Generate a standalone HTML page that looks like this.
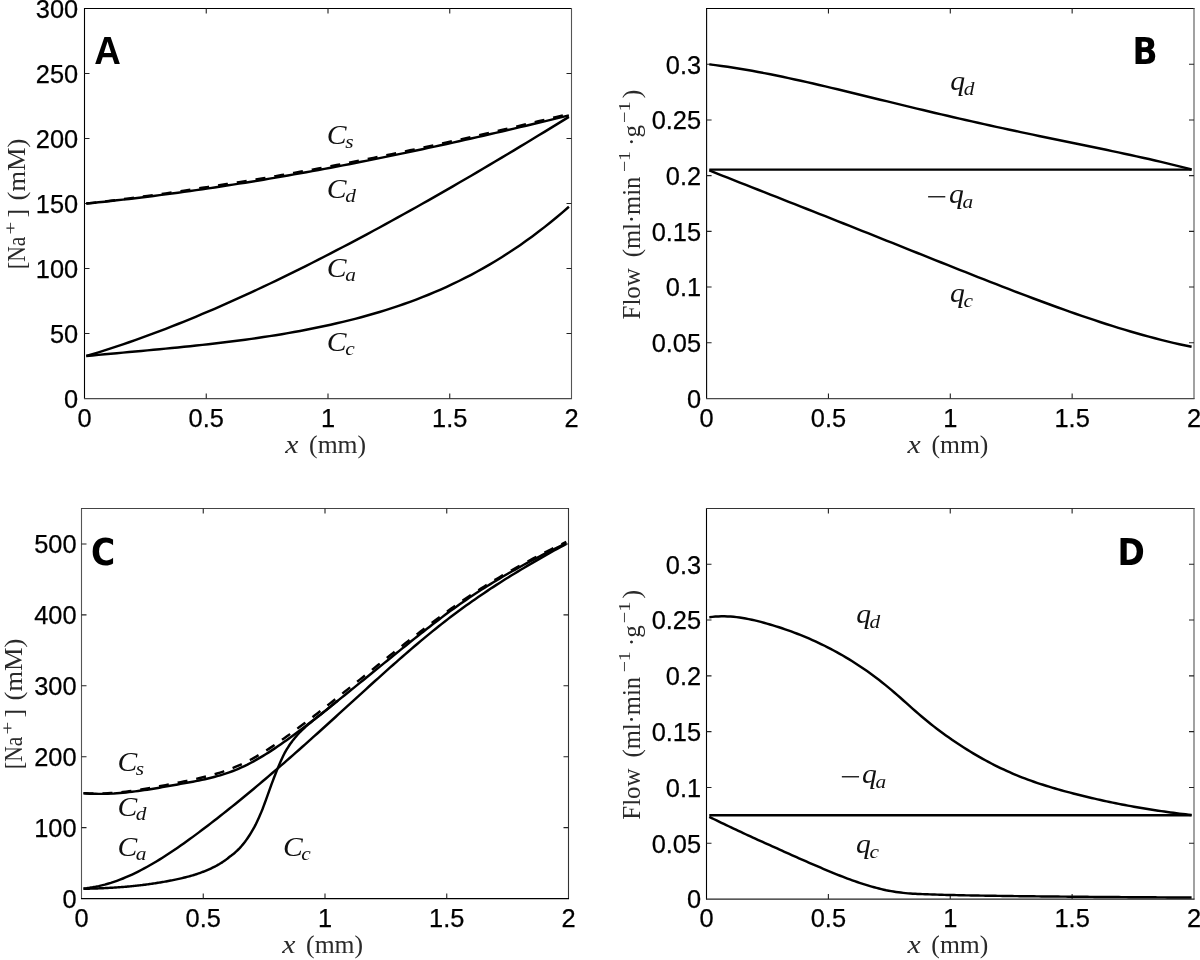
<!DOCTYPE html>
<html lang="en">
<head>
<meta charset="utf-8">
<title>Figure</title>
<style>
html,body{margin:0;padding:0;background:#fff;}
svg{display:block;}
.tk{font-family:"Liberation Sans",sans-serif;font-size:25.4px;fill:#000;stroke:#000;stroke-width:0.25;}
.lb{font-family:"Liberation Serif",serif;font-size:26px;fill:#2a2a2a;}
.sp{font-size:17.5px;}
.mt{font-family:"Liberation Serif",serif;font-style:italic;font-size:27.2px;fill:#111;}
.mn{font-style:normal;}
.sb{font-size:19.6px;}
.pc{font-family:"DejaVu Sans Condensed","DejaVu Sans","Liberation Sans",sans-serif;font-weight:bold;font-size:36.6px;fill:#000;}
.pl{font-family:"Liberation Sans",sans-serif;font-weight:bold;font-size:38.4px;fill:#000;}
</style>
</head>
<body>
<svg width="1200" height="960" viewBox="0 0 1200 960">
<rect x="0" y="0" width="1200" height="960" fill="#fff"/>
<path d="M84.5 8.0 V399.0" stroke="#000" stroke-width="1.1" fill="none"/>
<path d="M84.0 8.5 H572.0" stroke="#000" stroke-width="1.1" fill="none"/>
<path d="M571.5 8.0 V399.0" stroke="#555" stroke-width="1.1" fill="none"/>
<path d="M84.0 398.5 H572.0" stroke="#4a4a4a" stroke-width="1.25" fill="none"/>
<text x="84.50" y="426.80" text-anchor="middle" class="tk">0</text>
<text x="206.25" y="426.80" text-anchor="middle" class="tk">0.5</text>
<text x="328.00" y="426.80" text-anchor="middle" class="tk">1</text>
<text x="449.75" y="426.80" text-anchor="middle" class="tk">1.5</text>
<text x="571.50" y="426.80" text-anchor="middle" class="tk">2</text>
<text x="78.20" y="407.80" text-anchor="end" class="tk">0</text>
<text x="78.20" y="342.80" text-anchor="end" class="tk">50</text>
<text x="78.20" y="277.80" text-anchor="end" class="tk">100</text>
<text x="78.20" y="212.80" text-anchor="end" class="tk">150</text>
<text x="78.20" y="147.80" text-anchor="end" class="tk">200</text>
<text x="78.20" y="82.80" text-anchor="end" class="tk">250</text>
<text x="78.20" y="17.80" text-anchor="end" class="tk">300</text>
<path d="M206.25 398.5 v-5 M206.25 8.5 v5 M328.00 398.5 v-5 M328.00 8.5 v5 M449.75 398.5 v-5 M449.75 8.5 v5 M84.5 333.50 h5 M571.5 333.50 h-5 M84.5 268.50 h5 M571.5 268.50 h-5 M84.5 203.50 h5 M571.5 203.50 h-5 M84.5 138.50 h5 M571.5 138.50 h-5 M84.5 73.50 h5 M571.5 73.50 h-5" fill="none" stroke="#222" stroke-width="1.1"/>
<text x="285.20" y="452.80" class="lb" font-style="italic" textLength="13.2" lengthAdjust="spacingAndGlyphs">x</text>
<text x="309.10" y="452.80" class="lb" textLength="57" lengthAdjust="spacingAndGlyphs">(mm)</text>
<g transform="translate(25,269.00) rotate(-90)"><text x="0.0" y="0" class="lb" textLength="32.4" lengthAdjust="spacingAndGlyphs">[Na</text><text x="34.2" y="-9.2" class="lb sp" textLength="13.2" lengthAdjust="spacingAndGlyphs">+</text><text x="51.6" y="0" class="lb">]</text><text x="68.6" y="0" class="lb" textLength="61.7" lengthAdjust="spacingAndGlyphs">(mM)</text></g>
<path d="M86.30 203.58 L92.41 202.96 L98.52 202.33 L104.63 201.68 L110.74 201.02 L116.84 200.34 L122.95 199.64 L129.06 198.93 L135.17 198.21 L141.28 197.47 L147.39 196.71 L153.50 195.94 L159.61 195.15 L165.72 194.35 L171.82 193.54 L177.93 192.71 L184.04 191.87 L190.15 191.01 L196.26 190.14 L202.37 189.25 L208.48 188.36 L214.59 187.44 L220.69 186.52 L226.80 185.58 L232.91 184.63 L239.02 183.66 L245.13 182.68 L251.24 181.69 L257.35 180.69 L263.46 179.67 L269.57 178.64 L275.67 177.60 L281.78 176.55 L287.89 175.48 L294.00 174.41 L300.11 173.32 L306.22 172.22 L312.33 171.10 L318.44 169.98 L324.55 168.85 L330.65 167.70 L336.76 166.54 L342.87 165.37 L348.98 164.19 L355.09 163.00 L361.20 161.80 L367.31 160.59 L373.42 159.37 L379.53 158.14 L385.63 156.90 L391.74 155.64 L397.85 154.38 L403.96 153.11 L410.07 151.82 L416.18 150.53 L422.29 149.23 L428.40 147.92 L434.51 146.60 L440.61 145.27 L446.72 143.93 L452.83 142.58 L458.94 141.22 L465.05 139.86 L471.16 138.48 L477.27 137.10 L483.38 135.70 L489.48 134.30 L495.59 132.89 L501.70 131.47 L507.81 130.05 L513.92 128.61 L520.03 127.17 L526.14 125.72 L532.25 124.26 L538.36 122.80 L544.46 121.33 L550.57 119.84 L556.68 118.36 L562.79 116.86 L568.90 115.36" fill="none" stroke="#000" stroke-width="2.45" stroke-linejoin="round"/>
<path d="M86.30 203.58 L92.41 202.89 L98.52 202.18 L104.63 201.45 L110.74 200.71 L116.84 199.96 L122.95 199.18 L129.06 198.40 L135.17 197.60 L141.28 196.78 L147.39 195.95 L153.50 195.10 L159.61 194.24 L165.72 193.36 L171.82 192.47 L177.93 191.56 L184.04 190.65 L190.15 189.71 L196.26 188.76 L202.37 187.80 L208.48 186.86 L214.59 185.94 L220.69 185.02 L226.80 184.08 L232.91 183.13 L239.02 182.16 L245.13 181.18 L251.24 180.19 L257.35 179.19 L263.46 178.17 L269.57 177.14 L275.67 176.10 L281.78 175.05 L287.89 173.98 L294.00 172.91 L300.11 171.82 L306.22 170.72 L312.33 169.60 L318.44 168.48 L324.55 167.35 L330.65 166.20 L336.76 165.04 L342.87 163.87 L348.98 162.69 L355.09 161.50 L361.20 160.30 L367.31 159.09 L373.42 157.87 L379.53 156.64 L385.63 155.40 L391.74 154.14 L397.85 152.88 L403.96 151.61 L410.07 150.32 L416.18 149.03 L422.29 147.73 L428.40 146.42 L434.51 145.10 L440.61 143.77 L446.72 142.43 L452.83 141.08 L458.94 139.72 L465.05 138.36 L471.16 136.98 L477.27 135.60 L483.38 134.20 L489.48 132.80 L495.59 131.39 L501.70 129.97 L507.81 128.55 L513.92 127.11 L520.03 125.67 L526.14 124.22 L532.25 122.76 L538.36 121.30 L544.46 119.83 L550.57 118.34 L556.68 116.86 L562.79 115.36 L568.90 113.86" fill="none" stroke="#000" stroke-width="2.45" stroke-linejoin="round" stroke-dasharray="10 9"/>
<path d="M86.30 356.03 L92.41 354.19 L98.52 352.31 L104.63 350.38 L110.74 348.40 L116.84 346.39 L122.95 344.33 L129.06 342.23 L135.17 340.08 L141.28 337.90 L147.39 335.68 L153.50 333.42 L159.61 331.11 L165.72 328.78 L171.82 326.40 L177.93 323.99 L184.04 321.54 L190.15 319.05 L196.26 316.53 L202.37 313.97 L208.48 311.38 L214.59 308.76 L220.69 306.10 L226.80 303.42 L232.91 300.70 L239.02 297.95 L245.13 295.16 L251.24 292.35 L257.35 289.51 L263.46 286.64 L269.57 283.75 L275.67 280.82 L281.78 277.87 L287.89 274.89 L294.00 271.89 L300.11 268.86 L306.22 265.81 L312.33 262.73 L318.44 259.63 L324.55 256.51 L330.65 253.37 L336.76 250.20 L342.87 247.01 L348.98 243.80 L355.09 240.57 L361.20 237.33 L367.31 234.06 L373.42 230.77 L379.53 227.46 L385.63 224.13 L391.74 220.78 L397.85 217.42 L403.96 214.04 L410.07 210.64 L416.18 207.22 L422.29 203.78 L428.40 200.33 L434.51 196.86 L440.61 193.37 L446.72 189.87 L452.83 186.35 L458.94 182.81 L465.05 179.26 L471.16 175.70 L477.27 172.12 L483.38 168.52 L489.48 164.92 L495.59 161.29 L501.70 157.66 L507.81 154.01 L513.92 150.35 L520.03 146.67 L526.14 142.98 L532.25 139.28 L538.36 135.57 L544.46 131.85 L550.57 128.11 L556.68 124.37 L562.79 120.61 L568.90 116.85" fill="none" stroke="#000" stroke-width="2.45" stroke-linejoin="round"/>
<path d="M86.30 356.06 L92.41 355.47 L98.52 354.88 L104.63 354.31 L110.74 353.74 L116.84 353.17 L122.95 352.61 L129.06 352.05 L135.17 351.49 L141.28 350.93 L147.39 350.36 L153.50 349.79 L159.61 349.21 L165.72 348.63 L171.82 348.04 L177.93 347.43 L184.04 346.82 L190.15 346.19 L196.26 345.55 L202.37 344.89 L208.48 344.21 L214.59 343.51 L220.69 342.80 L226.80 342.06 L232.91 341.30 L239.02 340.51 L245.13 339.69 L251.24 338.85 L257.35 337.98 L263.46 337.08 L269.57 336.14 L275.67 335.17 L281.78 334.17 L287.89 333.13 L294.00 332.05 L300.11 330.93 L306.22 329.77 L312.33 328.57 L318.44 327.32 L324.55 326.03 L330.65 324.69 L336.76 323.30 L342.87 321.86 L348.98 320.37 L355.09 318.82 L361.20 317.21 L367.31 315.54 L373.42 313.80 L379.53 311.99 L385.63 310.12 L391.74 308.16 L397.85 306.14 L403.96 304.03 L410.07 301.84 L416.18 299.56 L422.29 297.20 L428.40 294.75 L434.51 292.20 L440.61 289.56 L446.72 286.81 L452.83 283.97 L458.94 281.02 L465.05 277.96 L471.16 274.79 L477.27 271.51 L483.38 268.12 L489.48 264.60 L495.59 260.96 L501.70 257.20 L507.81 253.31 L513.92 249.29 L520.03 245.14 L526.14 240.85 L532.25 236.42 L538.36 231.85 L544.46 227.14 L550.57 222.28 L556.68 217.27 L562.79 212.11 L568.90 206.79" fill="none" stroke="#000" stroke-width="2.45" stroke-linejoin="round"/>
<text transform="translate(326.8,144.3) scale(1.09,1)" class="mt">C<tspan class="sb" dx="-1.3" dy="4.0">s</tspan></text>
<text transform="translate(326.8,198.3) scale(1.09,1)" class="mt">C<tspan class="sb" dx="-1.3" dy="4.0">d</tspan></text>
<text transform="translate(326.8,276.7) scale(1.09,1)" class="mt">C<tspan class="sb" dx="-1.3" dy="4.0">a</tspan></text>
<text transform="translate(326.8,351) scale(1.09,1)" class="mt">C<tspan class="sb" dx="-1.3" dy="4.0">c</tspan></text>
<text x="94.3" y="63.5" class="pl" textLength="26.6" lengthAdjust="spacingAndGlyphs">A</text>
<path d="M706.6 8.0 V399.0" stroke="#000" stroke-width="1.1" fill="none"/>
<path d="M706.1 8.5 H1194.5" stroke="#000" stroke-width="1.1" fill="none"/>
<path d="M1194.0 8.0 V399.0" stroke="#555" stroke-width="1.1" fill="none"/>
<path d="M706.1 398.5 H1194.5" stroke="#4a4a4a" stroke-width="1.25" fill="none"/>
<text x="706.60" y="426.80" text-anchor="middle" class="tk">0</text>
<text x="828.45" y="426.80" text-anchor="middle" class="tk">0.5</text>
<text x="950.30" y="426.80" text-anchor="middle" class="tk">1</text>
<text x="1072.15" y="426.80" text-anchor="middle" class="tk">1.5</text>
<text x="1194.00" y="426.80" text-anchor="middle" class="tk">2</text>
<text x="701.10" y="407.80" text-anchor="end" class="tk">0</text>
<text x="701.10" y="352.09" text-anchor="end" class="tk">0.05</text>
<text x="701.10" y="296.37" text-anchor="end" class="tk">0.1</text>
<text x="701.10" y="240.66" text-anchor="end" class="tk">0.15</text>
<text x="701.10" y="184.94" text-anchor="end" class="tk">0.2</text>
<text x="701.10" y="129.23" text-anchor="end" class="tk">0.25</text>
<text x="701.10" y="73.51" text-anchor="end" class="tk">0.3</text>
<path d="M828.45 398.5 v-5 M828.45 8.5 v5 M950.30 398.5 v-5 M950.30 8.5 v5 M1072.15 398.5 v-5 M1072.15 8.5 v5 M706.6 342.79 h5 M1194.0 342.79 h-5 M706.6 287.07 h5 M1194.0 287.07 h-5 M706.6 231.36 h5 M1194.0 231.36 h-5 M706.6 175.64 h5 M1194.0 175.64 h-5 M706.6 119.93 h5 M1194.0 119.93 h-5 M706.6 64.21 h5 M1194.0 64.21 h-5" fill="none" stroke="#222" stroke-width="1.1"/>
<text x="907.50" y="452.80" class="lb" font-style="italic" textLength="13.2" lengthAdjust="spacingAndGlyphs">x</text>
<text x="931.40" y="452.80" class="lb" textLength="57" lengthAdjust="spacingAndGlyphs">(mm)</text>
<g transform="translate(639.5,319.50) rotate(-90)"><text x="0.0" y="0" class="lb" textLength="51.4" lengthAdjust="spacingAndGlyphs">Flow</text><text x="62.2" y="0" class="lb" textLength="80.6" lengthAdjust="spacingAndGlyphs">(ml·min</text><text x="147.4" y="-9.2" class="lb sp" textLength="21.2" lengthAdjust="spacingAndGlyphs">−1</text><text x="173.5" y="0" class="lb" textLength="21.0" lengthAdjust="spacingAndGlyphs">·g</text><text x="196.6" y="-9.2" class="lb sp" textLength="21.5" lengthAdjust="spacingAndGlyphs">−1</text><text x="221.3" y="0" class="lb">)</text></g>
<path d="M709.30 64.40 L715.41 65.14 L721.51 65.95 L727.62 66.81 L733.72 67.74 L739.83 68.71 L745.93 69.74 L752.04 70.82 L758.14 71.94 L764.25 73.10 L770.35 74.30 L776.46 75.54 L782.56 76.81 L788.67 78.11 L794.77 79.44 L800.88 80.79 L806.98 82.17 L813.09 83.56 L819.19 84.98 L825.30 86.41 L831.40 87.85 L837.51 89.31 L843.61 90.78 L849.72 92.25 L855.82 93.73 L861.93 95.22 L868.03 96.71 L874.14 98.20 L880.24 99.69 L886.35 101.18 L892.45 102.67 L898.56 104.16 L904.66 105.64 L910.77 107.11 L916.87 108.58 L922.98 110.04 L929.08 111.49 L935.19 112.94 L941.29 114.37 L947.40 115.80 L953.50 117.22 L959.61 118.62 L965.71 120.02 L971.82 121.40 L977.92 122.77 L984.03 124.13 L990.13 125.49 L996.24 126.83 L1002.34 128.16 L1008.45 129.48 L1014.55 130.79 L1020.66 132.09 L1026.76 133.38 L1032.87 134.66 L1038.97 135.94 L1045.08 137.21 L1051.18 138.48 L1057.29 139.74 L1063.39 141.00 L1069.50 142.25 L1075.60 143.51 L1081.71 144.76 L1087.81 146.02 L1093.92 147.28 L1100.02 148.55 L1106.13 149.82 L1112.23 151.10 L1118.34 152.39 L1124.44 153.69 L1130.55 155.01 L1136.65 156.35 L1142.76 157.70 L1148.86 159.07 L1154.97 160.47 L1161.07 161.89 L1167.18 163.34 L1173.28 164.82 L1179.39 166.33 L1185.49 167.88 L1191.60 169.47" fill="none" stroke="#000" stroke-width="2.45" stroke-linejoin="round"/>
<path d="M709.30 169.60 L1191.60 169.60" fill="none" stroke="#000" stroke-width="2.45" stroke-linejoin="round"/>
<path d="M709.30 170.44 L715.41 172.87 L721.51 175.29 L727.62 177.71 L733.72 180.13 L739.83 182.54 L745.93 184.95 L752.04 187.36 L758.14 189.76 L764.25 192.16 L770.35 194.57 L776.46 196.97 L782.56 199.37 L788.67 201.77 L794.77 204.18 L800.88 206.59 L806.98 208.99 L813.09 211.40 L819.19 213.82 L825.30 216.23 L831.40 218.65 L837.51 221.07 L843.61 223.49 L849.72 225.92 L855.82 228.35 L861.93 230.78 L868.03 233.21 L874.14 235.65 L880.24 238.09 L886.35 240.53 L892.45 242.97 L898.56 245.41 L904.66 247.85 L910.77 250.30 L916.87 252.74 L922.98 255.19 L929.08 257.63 L935.19 260.07 L941.29 262.51 L947.40 264.94 L953.50 267.37 L959.61 269.80 L965.71 272.22 L971.82 274.64 L977.92 277.04 L984.03 279.45 L990.13 281.84 L996.24 284.22 L1002.34 286.59 L1008.45 288.95 L1014.55 291.29 L1020.66 293.62 L1026.76 295.94 L1032.87 298.23 L1038.97 300.51 L1045.08 302.77 L1051.18 305.01 L1057.29 307.23 L1063.39 309.42 L1069.50 311.59 L1075.60 313.73 L1081.71 315.84 L1087.81 317.92 L1093.92 319.96 L1100.02 321.98 L1106.13 323.96 L1112.23 325.90 L1118.34 327.80 L1124.44 329.66 L1130.55 331.48 L1136.65 333.25 L1142.76 334.98 L1148.86 336.65 L1154.97 338.28 L1161.07 339.85 L1167.18 341.36 L1173.28 342.82 L1179.39 344.22 L1185.49 345.55 L1191.60 346.82" fill="none" stroke="#000" stroke-width="2.45" stroke-linejoin="round"/>
<text transform="translate(950.3,89.8) scale(1.09,1)" class="mt">q<tspan class="sb" dx="-1.3" dy="5.0">d</tspan></text>
<text transform="translate(926.30,206.10) scale(1.36,1)" class="mt mn">−</text>
<text transform="translate(949,203.4) scale(1.09,1)" class="mt">q<tspan class="sb" dx="-1.3" dy="5.0">a</tspan></text>
<text transform="translate(950,302) scale(1.09,1)" class="mt">q<tspan class="sb" dx="-1.3" dy="5.0">c</tspan></text>
<text x="1132.6" y="63.7" class="pc">B</text>
<path d="M81.5 508.0 V899.0" stroke="#555" stroke-width="1.1" fill="none"/>
<path d="M81.0 508.5 H569.0" stroke="#444" stroke-width="1.1" fill="none"/>
<path d="M568.5 508.0 V899.0" stroke="#333" stroke-width="1.1" fill="none"/>
<path d="M81.0 898.5 H569.0" stroke="#000" stroke-width="1.25" fill="none"/>
<text x="81.50" y="926.80" text-anchor="middle" class="tk">0</text>
<text x="203.25" y="926.80" text-anchor="middle" class="tk">0.5</text>
<text x="325.00" y="926.80" text-anchor="middle" class="tk">1</text>
<text x="446.75" y="926.80" text-anchor="middle" class="tk">1.5</text>
<text x="568.50" y="926.80" text-anchor="middle" class="tk">2</text>
<text x="76.60" y="907.80" text-anchor="end" class="tk">0</text>
<text x="76.60" y="836.89" text-anchor="end" class="tk">100</text>
<text x="76.60" y="765.98" text-anchor="end" class="tk">200</text>
<text x="76.60" y="695.07" text-anchor="end" class="tk">300</text>
<text x="76.60" y="624.16" text-anchor="end" class="tk">400</text>
<text x="76.60" y="553.25" text-anchor="end" class="tk">500</text>
<path d="M203.25 898.5 v-5 M203.25 508.5 v5 M325.00 898.5 v-5 M325.00 508.5 v5 M446.75 898.5 v-5 M446.75 508.5 v5 M81.5 827.59 h5 M568.5 827.59 h-5 M81.5 756.68 h5 M568.5 756.68 h-5 M81.5 685.77 h5 M568.5 685.77 h-5 M81.5 614.86 h5 M568.5 614.86 h-5 M81.5 543.95 h5 M568.5 543.95 h-5" fill="none" stroke="#222" stroke-width="1.1"/>
<text x="282.20" y="952.80" class="lb" font-style="italic" textLength="13.2" lengthAdjust="spacingAndGlyphs">x</text>
<text x="306.10" y="952.80" class="lb" textLength="57" lengthAdjust="spacingAndGlyphs">(mm)</text>
<g transform="translate(22,769.00) rotate(-90)"><text x="0.0" y="0" class="lb" textLength="32.4" lengthAdjust="spacingAndGlyphs">[Na</text><text x="34.2" y="-9.2" class="lb sp" textLength="13.2" lengthAdjust="spacingAndGlyphs">+</text><text x="51.6" y="0" class="lb">]</text><text x="68.6" y="0" class="lb" textLength="61.7" lengthAdjust="spacingAndGlyphs">(mM)</text></g>
<path d="M83.50 793.31 L86.54 793.51 L89.57 793.66 L92.61 793.77 L95.65 793.84 L98.68 793.88 L101.72 793.87 L104.76 793.82 L107.79 793.75 L110.83 793.63 L113.86 793.48 L116.90 793.25 L119.94 793.00 L122.97 792.73 L126.01 792.42 L129.05 792.09 L132.08 791.75 L135.12 791.38 L138.16 790.99 L141.19 790.58 L144.23 790.16 L147.27 789.72 L150.30 789.22 L153.34 788.72 L156.38 788.20 L159.41 787.68 L162.45 787.15 L165.48 786.61 L168.52 786.07 L171.56 785.53 L174.59 784.99 L177.63 784.45 L180.67 783.91 L183.70 783.36 L186.74 782.81 L189.78 782.25 L192.81 781.68 L195.85 781.09 L198.89 780.49 L201.92 779.86 L204.96 779.20 L208.00 778.51 L211.03 777.78 L214.07 777.01 L217.11 776.19 L220.14 775.32 L223.18 774.39 L226.21 773.40 L229.25 772.35 L232.29 771.23 L235.32 770.04 L238.36 768.78 L241.40 767.45 L244.43 766.06 L247.47 764.60 L250.51 763.01 L253.54 761.37 L256.58 759.67 L259.62 757.91 L262.65 756.10 L265.69 754.24 L268.73 752.34 L271.76 750.38 L274.80 748.38 L277.83 746.33 L280.87 744.24 L283.91 742.11 L286.94 739.93 L289.98 737.73 L293.02 735.48 L296.05 733.21 L299.09 730.90 L302.13 728.63 L305.16 726.36 L308.20 724.06 L311.24 721.74 L314.27 719.40 L317.31 717.04 L320.35 714.66 L323.38 712.26 L326.42 709.86 L329.45 707.44 L332.49 705.01 L335.53 702.57 L338.56 700.12 L341.60 697.67 L344.64 695.22 L347.67 692.76 L350.71 690.30 L353.75 687.84 L356.78 685.37 L359.82 682.91 L362.86 680.44 L365.89 677.97 L368.93 675.50 L371.97 673.03 L375.00 670.56 L378.04 668.09 L381.07 665.62 L384.11 663.16 L387.15 660.69 L390.18 658.23 L393.22 655.76 L396.26 653.31 L399.29 650.85 L402.33 648.40 L405.37 645.95 L408.40 643.50 L411.44 641.07 L414.48 638.64 L417.51 636.22 L420.55 633.81 L423.59 631.42 L426.62 629.04 L429.66 626.67 L432.69 624.32 L435.73 621.98 L438.77 619.67 L441.80 617.37 L444.84 615.10 L447.88 612.85 L450.91 610.62 L453.95 608.42 L456.99 606.24 L460.02 604.09 L463.06 601.97 L466.10 599.88 L469.13 597.82 L472.17 595.78 L475.21 593.77 L478.24 591.79 L481.28 589.83 L484.32 587.90 L487.35 585.99 L490.39 584.11 L493.42 582.25 L496.46 580.41 L499.50 578.59 L502.53 576.80 L505.57 575.02 L508.61 573.27 L511.64 571.54 L514.68 569.82 L517.72 568.13 L520.75 566.45 L523.79 564.79 L526.83 563.15 L529.86 561.53 L532.90 559.92 L535.94 558.32 L538.97 556.74 L542.01 555.18 L545.04 553.62 L548.08 552.08 L551.12 550.56 L554.15 549.04 L557.19 547.54 L560.23 546.05 L563.26 544.57 L566.30 543.09" fill="none" stroke="#000" stroke-width="2.45" stroke-linejoin="round"/>
<path d="M83.50 793.11 L86.54 793.27 L89.57 793.38 L92.61 793.46 L95.65 793.49 L98.68 793.48 L101.72 793.43 L104.76 793.35 L107.79 793.23 L110.83 793.08 L113.86 792.89 L116.90 792.62 L119.94 792.33 L122.97 792.02 L126.01 791.67 L129.05 791.31 L132.08 790.90 L135.12 790.47 L138.16 790.02 L141.19 789.56 L144.23 789.07 L147.27 788.57 L150.30 788.02 L153.34 787.45 L156.38 786.87 L159.41 786.29 L162.45 785.70 L165.48 785.10 L168.52 784.50 L171.56 783.90 L174.59 783.30 L177.63 782.70 L180.67 782.10 L183.70 781.47 L186.74 780.85 L189.78 780.21 L192.81 779.57 L195.85 778.91 L198.89 778.23 L201.92 777.53 L204.96 776.80 L208.00 776.04 L211.03 775.23 L214.07 774.39 L217.11 773.50 L220.14 772.55 L223.18 771.55 L226.21 770.49 L229.25 769.37 L232.29 768.20 L235.32 766.97 L238.36 765.68 L241.40 764.31 L244.43 762.89 L247.47 761.39 L250.51 759.77 L253.54 758.09 L256.58 756.35 L259.62 754.56 L262.65 752.71 L265.69 750.82 L268.73 748.87 L271.76 746.88 L274.80 744.84 L277.83 742.76 L280.87 740.64 L283.91 738.51 L286.94 736.33 L289.98 734.13 L293.02 731.88 L296.05 729.61 L299.09 727.30 L302.13 725.03 L305.16 722.76 L308.20 720.46 L311.24 718.14 L314.27 715.80 L317.31 713.44 L320.35 711.06 L323.38 708.66 L326.42 706.26 L329.45 703.84 L332.49 701.43 L335.53 699.03 L338.56 696.62 L341.60 694.20 L344.64 691.79 L347.67 689.36 L350.71 686.94 L353.75 684.51 L356.78 682.08 L359.82 679.65 L362.86 677.22 L365.89 674.78 L368.93 672.35 L371.97 669.91 L375.00 667.48 L378.04 665.04 L381.07 662.61 L384.11 660.18 L387.15 657.74 L390.18 655.31 L393.22 652.89 L396.26 650.46 L399.29 648.04 L402.33 645.65 L405.37 643.28 L408.40 640.91 L411.44 638.55 L414.48 636.20 L417.51 633.86 L420.55 631.52 L423.59 629.18 L426.62 626.85 L429.66 624.53 L432.69 622.23 L435.73 619.95 L438.77 617.68 L441.80 615.44 L444.84 613.21 L447.88 611.01 L450.91 608.83 L453.95 606.66 L456.99 604.51 L460.02 602.39 L463.06 600.30 L466.10 598.24 L469.13 596.21 L472.17 594.20 L475.21 592.23 L478.24 590.27 L481.28 588.34 L484.32 586.42 L487.35 584.53 L490.39 582.66 L493.42 580.81 L496.46 578.99 L499.50 577.19 L502.53 575.41 L505.57 573.65 L508.61 571.91 L511.64 570.20 L514.68 568.50 L517.72 566.82 L520.75 565.15 L523.79 563.50 L526.83 561.87 L529.86 560.25 L532.90 558.64 L535.94 557.06 L538.97 555.48 L542.01 553.92 L545.04 552.38 L548.08 550.85 L551.12 549.33 L554.15 547.82 L557.19 546.32 L560.23 544.84 L563.26 543.36 L566.30 541.89" fill="none" stroke="#000" stroke-width="2.45" stroke-linejoin="round" stroke-dasharray="10 9"/>
<path d="M83.50 888.43 L86.54 888.14 L89.57 887.76 L92.61 887.30 L95.65 886.76 L98.68 886.14 L101.72 885.43 L104.76 884.66 L107.79 883.80 L110.83 882.88 L113.86 881.88 L116.90 880.82 L119.94 879.69 L122.97 878.49 L126.01 877.23 L129.05 875.90 L132.08 874.52 L135.12 873.07 L138.16 871.57 L141.19 870.02 L144.23 868.41 L147.27 866.75 L150.30 865.04 L153.34 863.28 L156.38 861.48 L159.41 859.63 L162.45 857.74 L165.48 855.81 L168.52 853.83 L171.56 851.83 L174.59 849.78 L177.63 847.70 L180.67 845.60 L183.70 843.46 L186.74 841.29 L189.78 839.09 L192.81 836.87 L195.85 834.63 L198.89 832.37 L201.92 830.08 L204.96 827.78 L208.00 825.46 L211.03 823.13 L214.07 820.78 L217.11 818.42 L220.14 816.04 L223.18 813.64 L226.21 811.24 L229.25 808.81 L232.29 806.38 L235.32 803.93 L238.36 801.46 L241.40 798.98 L244.43 796.49 L247.47 793.99 L250.51 791.48 L253.54 788.95 L256.58 786.41 L259.62 783.86 L262.65 781.29 L265.69 778.72 L268.73 776.14 L271.76 773.54 L274.80 770.93 L277.83 768.32 L280.87 765.69 L283.91 763.05 L286.94 760.41 L289.98 757.75 L293.02 755.09 L296.05 752.41 L299.09 749.73 L302.13 747.04 L305.16 744.34 L308.20 741.64 L311.24 738.92 L314.27 736.20 L317.31 733.48 L320.35 730.74 L323.38 728.00 L326.42 725.25 L329.45 722.50 L332.49 719.74 L335.53 716.98 L338.56 714.21 L341.60 711.44 L344.64 708.67 L347.67 705.90 L350.71 703.12 L353.75 700.35 L356.78 697.58 L359.82 694.81 L362.86 692.05 L365.89 689.28 L368.93 686.53 L371.97 683.77 L375.00 681.03 L378.04 678.29 L381.07 675.56 L384.11 672.84 L387.15 670.12 L390.18 667.42 L393.22 664.73 L396.26 662.05 L399.29 659.39 L402.33 656.73 L405.37 654.10 L408.40 651.47 L411.44 648.87 L414.48 646.28 L417.51 643.70 L420.55 641.15 L423.59 638.62 L426.62 636.10 L429.66 633.61 L432.69 631.14 L435.73 628.69 L438.77 626.27 L441.80 623.87 L444.84 621.49 L447.88 619.14 L450.91 616.82 L453.95 614.52 L456.99 612.25 L460.02 610.01 L463.06 607.79 L466.10 605.59 L469.13 603.42 L472.17 601.27 L475.21 599.15 L478.24 597.04 L481.28 594.96 L484.32 592.91 L487.35 590.87 L490.39 588.85 L493.42 586.86 L496.46 584.88 L499.50 582.93 L502.53 580.99 L505.57 579.07 L508.61 577.17 L511.64 575.29 L514.68 573.43 L517.72 571.58 L520.75 569.75 L523.79 567.93 L526.83 566.13 L529.86 564.35 L532.90 562.57 L535.94 560.82 L538.97 559.08 L542.01 557.35 L545.04 555.63 L548.08 553.92 L551.12 552.23 L554.15 550.55 L557.19 548.88 L560.23 547.22 L563.26 545.57 L566.30 543.93" fill="none" stroke="#000" stroke-width="2.45" stroke-linejoin="round"/>
<path d="M83.50 888.77 L84.66 888.75 L85.82 888.73 L86.99 888.71 L88.15 888.68 L89.31 888.66 L90.47 888.63 L91.63 888.60 L92.80 888.57 L93.96 888.53 L95.12 888.50 L96.28 888.46 L97.45 888.42 L98.61 888.37 L99.77 888.33 L100.93 888.28 L102.09 888.23 L103.26 888.18 L104.42 888.13 L105.58 888.08 L106.74 888.02 L107.90 887.96 L109.07 887.90 L110.23 887.83 L111.39 887.76 L112.55 887.69 L113.71 887.62 L114.88 887.55 L116.04 887.47 L117.20 887.39 L118.36 887.31 L119.53 887.23 L120.69 887.14 L121.85 887.05 L123.01 886.96 L124.17 886.86 L125.34 886.77 L126.50 886.67 L127.66 886.56 L128.82 886.46 L129.98 886.35 L131.15 886.24 L132.31 886.12 L133.47 886.01 L134.63 885.89 L135.79 885.76 L136.96 885.64 L138.12 885.51 L139.28 885.38 L140.44 885.24 L141.61 885.10 L142.77 884.96 L143.93 884.82 L145.09 884.67 L146.25 884.52 L147.42 884.36 L148.58 884.21 L149.74 884.05 L150.90 883.88 L152.06 883.72 L153.23 883.55 L154.39 883.37 L155.55 883.19 L156.71 883.01 L157.87 882.83 L159.04 882.64 L160.20 882.45 L161.36 882.26 L162.52 882.06 L163.68 881.86 L164.85 881.65 L166.01 881.44 L167.17 881.23 L168.33 881.01 L169.50 880.79 L170.66 880.57 L171.82 880.34 L172.98 880.11 L174.14 879.87 L175.31 879.63 L176.47 879.39 L177.63 879.14 L178.79 878.89 L179.95 878.63 L181.12 878.36 L182.28 878.09 L183.44 877.81 L184.60 877.53 L185.76 877.23 L186.93 876.93 L188.09 876.63 L189.25 876.31 L190.41 875.98 L191.58 875.65 L192.74 875.31 L193.90 874.96 L195.06 874.59 L196.22 874.22 L197.39 873.84 L198.55 873.44 L199.71 873.04 L200.87 872.62 L202.03 872.19 L203.20 871.75 L204.36 871.29 L205.52 870.82 L206.68 870.34 L207.84 869.85 L209.01 869.34 L210.17 868.81 L211.33 868.27 L212.49 867.72 L213.66 867.15 L214.82 866.57 L215.98 865.96 L217.14 865.34 L218.30 864.69 L219.47 864.02 L220.63 863.32 L221.79 862.59 L222.95 861.84 L224.11 861.05 L225.28 860.22 L226.44 859.36 L227.60 858.47 L228.76 857.53 L229.92 856.55 L231.09 855.72 L232.25 854.85 L233.41 853.93 L234.57 852.97 L235.74 851.95 L236.90 850.88 L238.06 849.75 L239.22 848.57 L240.38 847.32 L241.55 846.01 L242.71 844.64 L243.87 843.20 L245.03 841.70 L246.19 840.12 L247.36 838.47 L248.52 836.76 L249.68 834.98 L250.84 833.13 L252.00 831.20 L253.17 829.21 L254.33 827.14 L255.49 824.92 L256.65 822.50 L257.82 820.01 L258.98 817.45 L260.14 814.83 L261.30 812.13 L262.46 809.26 L263.63 806.16 L264.79 803.01 L265.95 799.82 L267.11 796.60 L268.27 793.37 L269.44 790.13 L270.60 786.90 L271.76 783.68 L272.92 780.57 L274.08 777.51 L275.25 774.50 L276.41 771.55 L277.57 768.66 L278.73 765.85 L279.89 763.11 L281.06 760.48 L282.22 757.95 L283.38 755.52 L284.54 753.20 L285.71 751.09 L286.87 749.14 L288.03 747.29 L289.19 745.51 L290.35 743.81 L291.52 742.19 L292.68 740.64 L293.84 739.15 L295.00 737.73 L296.16 736.35 L297.33 735.03 L298.49 733.76 L299.65 732.52 L300.81 731.33 L301.97 730.18 L303.14 729.06 L304.30 727.98 L305.46 726.92 L306.62 725.89 L307.79 724.89 L308.95 723.91 L310.11 722.95 L311.27 722.00 L312.43 721.06 L313.60 720.14 L314.76 719.23 L315.92 718.32 L317.08 717.41 L318.24 716.50 L319.41 715.59 L320.57 714.67 L321.73 713.75 L322.89 712.81 L324.05 711.86 L325.22 710.91 L326.38 709.95 L327.54 708.98 L328.70 708.02 L329.87 707.06 L331.03 706.10 L332.19 705.15 L333.35 704.20 L334.51 703.27 L335.68 702.35 L336.84 701.45 L338.00 700.57" fill="none" stroke="#000" stroke-width="2.45" stroke-linejoin="round"/>
<text transform="translate(117.5,770.5) scale(1.09,1)" class="mt">C<tspan class="sb" dx="-1.3" dy="4.0">s</tspan></text>
<text transform="translate(117.5,816.3) scale(1.09,1)" class="mt">C<tspan class="sb" dx="-1.3" dy="4.0">d</tspan></text>
<text transform="translate(117.5,856.3) scale(1.09,1)" class="mt">C<tspan class="sb" dx="-1.3" dy="4.0">a</tspan></text>
<text transform="translate(283,856.3) scale(1.09,1)" class="mt">C<tspan class="sb" dx="-1.3" dy="4.0">c</tspan></text>
<text x="90.9" y="564.9" class="pc">C</text>
<path d="M706.5 508.0 V899.5" stroke="#000" stroke-width="1.1" fill="none"/>
<path d="M706.0 508.5 H1194.5" stroke="#333" stroke-width="1.1" fill="none"/>
<path d="M1194.0 508.0 V899.5" stroke="#555" stroke-width="1.1" fill="none"/>
<path d="M706.0 899.0 H1194.5" stroke="#222" stroke-width="1.25" fill="none"/>
<text x="706.50" y="927.30" text-anchor="middle" class="tk">0</text>
<text x="828.38" y="927.30" text-anchor="middle" class="tk">0.5</text>
<text x="950.25" y="927.30" text-anchor="middle" class="tk">1</text>
<text x="1072.12" y="927.30" text-anchor="middle" class="tk">1.5</text>
<text x="1194.00" y="927.30" text-anchor="middle" class="tk">2</text>
<text x="701.10" y="908.30" text-anchor="end" class="tk">0</text>
<text x="701.10" y="852.51" text-anchor="end" class="tk">0.05</text>
<text x="701.10" y="796.73" text-anchor="end" class="tk">0.1</text>
<text x="701.10" y="740.94" text-anchor="end" class="tk">0.15</text>
<text x="701.10" y="685.16" text-anchor="end" class="tk">0.2</text>
<text x="701.10" y="629.37" text-anchor="end" class="tk">0.25</text>
<text x="701.10" y="573.59" text-anchor="end" class="tk">0.3</text>
<path d="M828.38 899.0 v-5 M828.38 508.5 v5 M950.25 899.0 v-5 M950.25 508.5 v5 M1072.12 899.0 v-5 M1072.12 508.5 v5 M706.5 843.21 h5 M1194.0 843.21 h-5 M706.5 787.43 h5 M1194.0 787.43 h-5 M706.5 731.64 h5 M1194.0 731.64 h-5 M706.5 675.86 h5 M1194.0 675.86 h-5 M706.5 620.07 h5 M1194.0 620.07 h-5 M706.5 564.29 h5 M1194.0 564.29 h-5" fill="none" stroke="#222" stroke-width="1.1"/>
<text x="907.45" y="953.30" class="lb" font-style="italic" textLength="13.2" lengthAdjust="spacingAndGlyphs">x</text>
<text x="931.35" y="953.30" class="lb" textLength="57" lengthAdjust="spacingAndGlyphs">(mm)</text>
<g transform="translate(639.5,819.75) rotate(-90)"><text x="0.0" y="0" class="lb" textLength="51.4" lengthAdjust="spacingAndGlyphs">Flow</text><text x="62.2" y="0" class="lb" textLength="80.6" lengthAdjust="spacingAndGlyphs">(ml·min</text><text x="147.4" y="-9.2" class="lb sp" textLength="21.2" lengthAdjust="spacingAndGlyphs">−1</text><text x="173.5" y="0" class="lb" textLength="21.0" lengthAdjust="spacingAndGlyphs">·g</text><text x="196.6" y="-9.2" class="lb sp" textLength="21.5" lengthAdjust="spacingAndGlyphs">−1</text><text x="221.3" y="0" class="lb">)</text></g>
<path d="M709.30 617.25 L712.33 616.87 L715.37 616.59 L718.40 616.41 L721.43 616.32 L724.47 616.32 L727.50 616.41 L730.53 616.57 L733.57 616.82 L736.60 617.14 L739.63 617.53 L742.67 617.99 L745.70 618.51 L748.73 619.08 L751.77 619.72 L754.80 620.40 L757.83 621.13 L760.87 621.91 L763.90 622.72 L766.93 623.57 L769.97 624.46 L773.00 625.37 L776.03 626.31 L779.07 627.28 L782.10 628.27 L785.13 629.30 L788.17 630.36 L791.20 631.46 L794.23 632.58 L797.27 633.74 L800.30 634.93 L803.33 636.16 L806.37 637.42 L809.40 638.72 L812.43 640.06 L815.47 641.43 L818.50 642.84 L821.53 644.29 L824.57 645.77 L827.60 647.30 L830.63 648.87 L833.67 650.48 L836.70 652.13 L839.73 653.82 L842.77 655.56 L845.80 657.34 L848.83 659.16 L851.87 661.03 L854.90 662.95 L857.93 664.92 L860.97 666.93 L864.00 668.99 L867.03 671.10 L870.07 673.27 L873.10 675.48 L876.13 677.75 L879.17 680.07 L882.20 682.44 L885.23 684.87 L888.27 687.35 L891.30 689.89 L894.33 692.48 L897.37 695.12 L900.40 697.79 L903.43 700.48 L906.47 703.19 L909.50 705.90 L912.53 708.60 L915.57 711.27 L918.60 713.91 L921.63 716.51 L924.67 719.05 L927.70 721.54 L930.73 723.98 L933.77 726.36 L936.80 728.70 L939.83 730.98 L942.87 733.23 L945.90 735.42 L948.93 737.57 L951.97 739.68 L955.00 741.76 L958.03 743.79 L961.07 745.78 L964.10 747.73 L967.13 749.64 L970.17 751.51 L973.20 753.34 L976.23 755.13 L979.27 756.88 L982.30 758.59 L985.33 760.26 L988.37 761.90 L991.40 763.49 L994.43 765.04 L997.47 766.56 L1000.50 768.03 L1003.53 769.47 L1006.57 770.86 L1009.60 772.22 L1012.63 773.54 L1015.67 774.82 L1018.70 776.06 L1021.73 777.27 L1024.77 778.44 L1027.80 779.57 L1030.83 780.68 L1033.87 781.75 L1036.90 782.79 L1039.93 783.81 L1042.97 784.79 L1046.00 785.75 L1049.03 786.69 L1052.07 787.61 L1055.10 788.50 L1058.13 789.37 L1061.17 790.22 L1064.20 791.06 L1067.23 791.87 L1070.27 792.68 L1073.30 793.47 L1076.33 794.24 L1079.37 795.01 L1082.40 795.76 L1085.43 796.50 L1088.47 797.22 L1091.50 797.94 L1094.53 798.64 L1097.57 799.33 L1100.60 800.01 L1103.63 800.68 L1106.67 801.33 L1109.70 801.97 L1112.73 802.60 L1115.77 803.22 L1118.80 803.83 L1121.83 804.43 L1124.87 805.01 L1127.90 805.58 L1130.93 806.14 L1133.97 806.69 L1137.00 807.23 L1140.03 807.76 L1143.07 808.27 L1146.10 808.78 L1149.13 809.27 L1152.17 809.75 L1155.20 810.22 L1158.23 810.68 L1161.27 811.13 L1164.30 811.57 L1167.33 812.00 L1170.37 812.42 L1173.40 812.82 L1176.43 813.22 L1179.47 813.60 L1182.50 813.98 L1185.53 814.34 L1188.57 814.69 L1191.60 815.04" fill="none" stroke="#000" stroke-width="2.45" stroke-linejoin="round"/>
<path d="M709.30 815.30 L1191.60 815.30" fill="none" stroke="#000" stroke-width="2.45" stroke-linejoin="round"/>
<path d="M709.30 816.90 L711.72 818.09 L714.15 819.27 L716.57 820.44 L718.99 821.62 L721.42 822.78 L723.84 823.95 L726.27 825.10 L728.69 826.26 L731.11 827.41 L733.54 828.56 L735.96 829.70 L738.38 830.85 L740.81 831.98 L743.23 833.12 L745.65 834.24 L748.08 835.36 L750.50 836.48 L752.93 837.59 L755.35 838.69 L757.77 839.78 L760.20 840.87 L762.62 841.96 L765.04 843.04 L767.47 844.13 L769.89 845.21 L772.31 846.29 L774.74 847.38 L777.16 848.47 L779.58 849.57 L782.01 850.67 L784.43 851.77 L786.86 852.87 L789.28 853.96 L791.70 855.05 L794.13 856.14 L796.55 857.22 L798.97 858.30 L801.40 859.36 L803.82 860.43 L806.24 861.49 L808.67 862.54 L811.09 863.60 L813.52 864.64 L815.94 865.68 L818.36 866.71 L820.79 867.74 L823.21 868.76 L825.63 869.76 L828.06 870.77 L830.48 871.78 L832.90 872.79 L835.33 873.79 L837.75 874.79 L840.18 875.76 L842.60 876.72 L845.02 877.66 L847.45 878.57 L849.87 879.45 L852.29 880.31 L854.72 881.16 L857.14 881.99 L859.56 882.80 L861.99 883.60 L864.41 884.38 L866.84 885.14 L869.26 885.87 L871.68 886.58 L874.11 887.26 L876.53 887.91 L878.95 888.55 L881.38 889.15 L883.80 889.72 L886.22 890.25 L888.65 890.72 L891.07 891.16 L893.49 891.57 L895.92 891.95 L898.34 892.29 L900.77 892.59 L903.19 892.87 L905.61 893.13 L908.04 893.37 L910.46 893.57 L912.88 893.72 L915.31 893.84 L917.73 893.94 L920.15 894.03 L922.58 894.12 L925.00 894.20 L927.43 894.29 L929.85 894.37 L932.27 894.46 L934.70 894.54 L937.12 894.63 L939.54 894.70 L941.97 894.78 L944.39 894.85 L946.81 894.92 L949.24 894.98 L951.66 895.04 L954.09 895.09 L956.51 895.15 L958.93 895.20 L961.36 895.25 L963.78 895.30 L966.20 895.35 L968.63 895.39 L971.05 895.44 L973.47 895.48 L975.90 895.52 L978.32 895.57 L980.75 895.61 L983.17 895.65 L985.59 895.68 L988.02 895.72 L990.44 895.76 L992.86 895.80 L995.29 895.83 L997.71 895.87 L1000.13 895.90 L1002.56 895.94 L1004.98 895.97 L1007.41 896.00 L1009.83 896.04 L1012.25 896.07 L1014.68 896.10 L1017.10 896.13 L1019.52 896.16 L1021.95 896.19 L1024.37 896.22 L1026.79 896.25 L1029.22 896.28 L1031.64 896.31 L1034.06 896.34 L1036.49 896.36 L1038.91 896.39 L1041.34 896.42 L1043.76 896.44 L1046.18 896.46 L1048.61 896.49 L1051.03 896.51 L1053.45 896.53 L1055.88 896.55 L1058.30 896.58 L1060.72 896.60 L1063.15 896.62 L1065.57 896.64 L1068.00 896.66 L1070.42 896.69 L1072.84 896.71 L1075.27 896.73 L1077.69 896.75 L1080.11 896.77 L1082.54 896.79 L1084.96 896.81 L1087.38 896.84 L1089.81 896.86 L1092.23 896.88 L1094.66 896.90 L1097.08 896.92 L1099.50 896.94 L1101.93 896.96 L1104.35 896.98 L1106.77 897.00 L1109.20 897.02 L1111.62 897.03 L1114.04 897.05 L1116.47 897.07 L1118.89 897.09 L1121.32 897.11 L1123.74 897.13 L1126.16 897.14 L1128.59 897.16 L1131.01 897.18 L1133.43 897.19 L1135.86 897.21 L1138.28 897.23 L1140.70 897.24 L1143.13 897.26 L1145.55 897.27 L1147.97 897.29 L1150.40 897.30 L1152.82 897.32 L1155.25 897.33 L1157.67 897.35 L1160.09 897.36 L1162.52 897.37 L1164.94 897.39 L1167.36 897.40 L1169.79 897.41 L1172.21 897.42 L1174.63 897.43 L1177.06 897.44 L1179.48 897.45 L1181.91 897.46 L1184.33 897.47 L1186.75 897.48 L1189.18 897.49 L1191.60 897.50" fill="none" stroke="#000" stroke-width="2.45" stroke-linejoin="round"/>
<text transform="translate(856.2,623.2) scale(1.09,1)" class="mt">q<tspan class="sb" dx="-1.3" dy="5.0">d</tspan></text>
<text transform="translate(839.90,785.60) scale(1.36,1)" class="mt mn">−</text>
<text transform="translate(862,782.9) scale(1.09,1)" class="mt">q<tspan class="sb" dx="-1.3" dy="5.0">a</tspan></text>
<text transform="translate(856,852.7) scale(1.09,1)" class="mt">q<tspan class="sb" dx="-1.3" dy="5.0">c</tspan></text>
<text x="1117.6" y="564.5" class="pc">D</text>
</svg>
</body>
</html>
